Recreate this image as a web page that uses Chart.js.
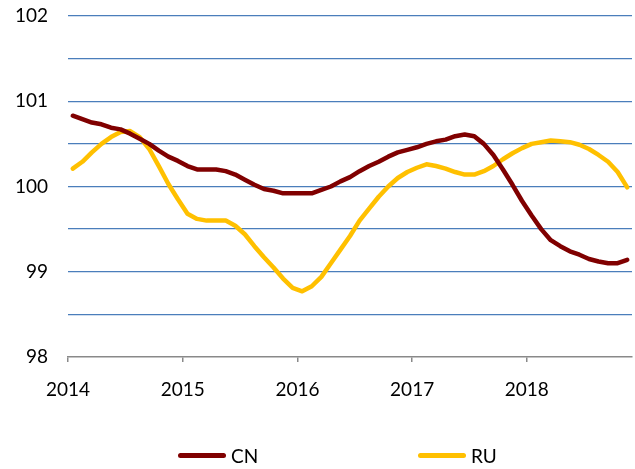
<!DOCTYPE html>
<html>
<head>
<meta charset="utf-8">
<script src="https://cdn.jsdelivr.net/npm/chart.js@4"></script>
<style>
  html, body { margin: 0; padding: 0; background: #fff; }
  #wrap { position: relative; width: 635px; height: 469px; }
  #c { position: absolute; left: 0; top: 0; }
  .leg { position: absolute; top: 443px; height: 24px; display: flex; align-items: center;
         font-family: Lato, "Open Sans", sans-serif; font-size: 19px; color: #000; }
  .leg .sw { width: 48px; height: 5px; border-radius: 3px; margin-right: 5px; }
</style>
</head>
<body>
<div id="wrap">
  <canvas id="c" width="635" height="469"></canvas>
  <div class="leg" style="left:178px"><span class="sw" style="background:#800000"></span><span>CN</span></div>
  <div class="leg" style="left:418px"><span class="sw" style="background:#FFC000"></span><span>RU</span></div>
</div>
<script>
// Monthly values, Jan 2014 .. Nov 2018 (mid-month)
const yearLabels = ['2014', '2015', '2016', '2017', '2018'];
const seriesNames = ['CN', 'RU'];
const CN = [
  100.83, 100.79, 100.75, 100.73, 100.69, 100.67, 100.62, 100.56, 100.50, 100.42, 100.35, 100.30,
  100.24, 100.20, 100.20, 100.20, 100.18, 100.14, 100.08, 100.02, 99.97, 99.95, 99.92, 99.92,
  99.92, 99.92, 99.96, 100.00, 100.06, 100.11, 100.18, 100.24, 100.29, 100.35, 100.40, 100.43,
  100.46, 100.50, 100.53, 100.55, 100.59, 100.61, 100.59, 100.50, 100.37, 100.20, 100.02, 99.83,
  99.66, 99.50, 99.37, 99.30, 99.24, 99.20, 99.15, 99.12, 99.10, 99.10, 99.14
];
const RU = [
  100.21, 100.29, 100.40, 100.50, 100.58, 100.64, 100.65, 100.58, 100.44, 100.24, 100.03, 99.85,
  99.68, 99.62, 99.60, 99.60, 99.60, 99.54, 99.44, 99.30, 99.17, 99.05, 98.92, 98.81,
  98.77, 98.83, 98.94, 99.10, 99.26, 99.42, 99.60, 99.74, 99.88, 100.00, 100.10, 100.17,
  100.22, 100.26, 100.24, 100.21, 100.17, 100.14, 100.14, 100.18, 100.24, 100.32, 100.39, 100.45,
  100.50, 100.52, 100.54, 100.53, 100.52, 100.49, 100.44, 100.37, 100.29, 100.17, 99.99
];
// month position on the axis (months since Jan 2014, data at mid-month)
const monthPos = CN.map((_, i) => i + 0.5);

const FONT = { family: 'Lato, "Open Sans", sans-serif', size: 19 };

new Chart(document.getElementById('c'), {
  type: 'line',
  data: {
    datasets: [
      { label: seriesNames[0], data: CN.map((v, i) => ({ x: monthPos[i], y: v })),
        borderColor: '#800000', borderWidth: 4.5, pointRadius: 0, tension: 0,
        borderJoinStyle: 'round', borderCapStyle: 'round' },
      { label: seriesNames[1], data: RU.map((v, i) => ({ x: monthPos[i], y: v })),
        borderColor: '#FFC000', borderWidth: 4.5, pointRadius: 0, tension: 0,
        borderJoinStyle: 'round', borderCapStyle: 'round' }
    ]
  },
  options: {
    responsive: false,
    animation: false,
    devicePixelRatio: 1,
    layout: { padding: { top: 16, right: 3, left: 0, bottom: 0 } },
    plugins: { legend: { display: false }, tooltip: { enabled: false } },
    scales: {
      x: {
        type: 'linear', min: 0, max: 59,
        afterBuildTicks: s => { s.ticks = yearLabels.map((_, k) => ({ value: k * 12 })); },
        afterFit: s => { s.height = 112; },
        ticks: { font: FONT, color: '#000', padding: 16, maxRotation: 0,
                 callback: v => yearLabels[Math.round(v / 12)] },
        grid: { drawOnChartArea: false, drawTicks: true, tickLength: 5, color: '#898989', lineWidth: 1.5 },
        border: { display: true, color: '#898989', width: 1.5 }
      },
      y: {
        min: 98, max: 102,
        afterFit: s => { s.width = 68; s.paddingTop = 0; s.paddingBottom = 0; },
        ticks: { stepSize: 0.5, font: FONT, color: '#000', padding: 20,
                 callback: v => Number.isInteger(v) ? String(v) : '' },
        grid: { drawTicks: false, lineWidth: 1.3,
                color: c => c.tick && c.tick.value === 98 ? 'rgba(0,0,0,0)' : '#4A7EBB' },
        border: { display: false }
      }
    }
  }
});
</script>
</body>
</html>
